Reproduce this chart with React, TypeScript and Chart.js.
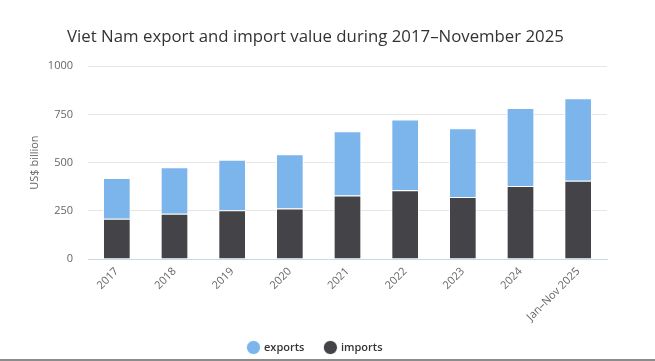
import React, { useEffect, useRef } from "react";
import { Chart, registerables } from "chart.js";

Chart.register(...registerables);

const categories = ["2017", "2018", "2019", "2020", "2021", "2022", "2023", "2024", "Jan–Nov 2025"];
const exportsValues = [211, 241, 262, 281, 334, 368, 356, 404, 427];
const importsValues = [209, 235, 253, 262, 329, 356, 322, 379, 406];
const yTicks = [0, 250, 500, 750, 1000];

const titleText = "Viet Nam export and import value during 2017–November 2025";
const yTitle = "US$ billion";

const unclipLabels = {
  id: "unclipLabels",
  afterLayout(chart: any) {
    const x = chart.scales.x;
    if (x) x.bottom = chart.height;
  },
};

export default function App() {
  const ref = useRef<HTMLCanvasElement | null>(null);

  useEffect(() => {
    document.body.style.margin = "0";
    const canvas = ref.current;
    if (!canvas) return;
    const chart = new Chart(canvas, {
      type: "bar",
      data: {
        labels: categories,
        datasets: [
          {
            label: "imports",
            data: importsValues,
            backgroundColor: "#434348",
            borderColor: "#ffffff",
            borderWidth: 1,
            categoryPercentage: 1,
            barPercentage: 0.48,
          },
          {
            label: "exports",
            data: exportsValues,
            backgroundColor: "#7cb5ec",
            borderColor: "#ffffff",
            borderWidth: 1,
            categoryPercentage: 1,
            barPercentage: 0.48,
          },
        ],
      },
      plugins: [unclipLabels],
      options: {
        animation: false,
        responsive: false,
        maintainAspectRatio: false,
        layout: { padding: { left: 24, right: 48, top: 0, bottom: 0 } },
        plugins: {
          title: {
            display: true,
            text: titleText,
            color: "#333333",
            font: { family: "'Open Sans'", size: 16.8, weight: "normal" },
            padding: { top: 27, bottom: 19 },
          },
          legend: {
            position: "bottom",
            reverse: true,
            maxHeight: 38,
            labels: {
              usePointStyle: true,
              pointStyle: "circle",
              boxWidth: 10,
              boxHeight: 10,
              padding: 21,
              color: "#333333",
              font: { family: "'Open Sans'", size: 11, weight: 600 },
            },
          },
          tooltip: { enabled: false },
        },
        scales: {
          x: {
            stacked: true,
            grid: { display: false, drawTicks: false },
            border: { display: true, color: "#ccd6eb", width: 1 },
            ticks: {
              color: "#666666",
              font: { family: "'Open Sans'", size: 11 },
              maxRotation: 45,
              minRotation: 45,
              padding: 6,
              autoSkip: false,
            },
            afterFit: (scale: any) => {
              scale.height = 62;
            },
          },
          y: {
            stacked: true,
            min: 0,
            max: 1000,
            afterBuildTicks: (scale: any) => {
              scale.ticks = yTicks.map((v) => ({ value: v }));
            },
            grid: { color: "#e6e6e6", drawTicks: false },
            border: { display: false },
            ticks: {
              color: "#666666",
              font: { family: "'Open Sans'", size: 11 },
              padding: 15,
              callback: (v: any) => String(v),
            },
            title: {
              display: true,
              text: yTitle,
              color: "#666666",
              font: { family: "'Open Sans'", size: 11 },
              padding: { top: 4, bottom: 4 },
            },
            afterFit: (scale: any) => {
              scale.width = 64;
            },
          },
        },
      },
    });
    return () => chart.destroy();
  }, []);

  return (
    <div style={{ width: 655, height: 359, borderBottom: "2px solid #8c8c8c", background: "#ffffff" }}>
      <canvas ref={ref} width={655} height={359} style={{ display: "block" }} />
    </div>
  );
}
